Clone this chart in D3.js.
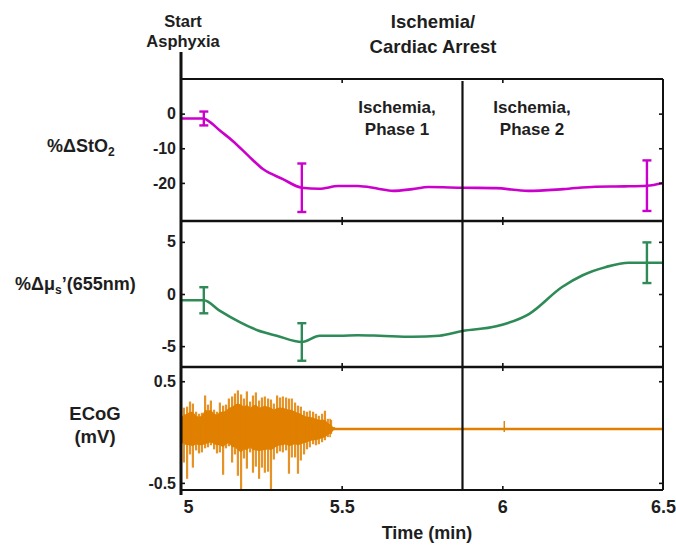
<!DOCTYPE html>
<html><head><meta charset="utf-8">
<script src="https://cdn.jsdelivr.net/npm/d3@7"></script>
<style>
body{margin:0;background:#fff}
text{font-family:"Liberation Sans",Arial,Helvetica,sans-serif;font-weight:bold;fill:#1e1e1e}
</style>
</head><body>
<svg id="c" width="676" height="545"></svg>
<script>
// ---------- data ----------
const xTickValues = [5, 5.5, 6, 6.5];
const xTickLabels = ["5", "5.5", "6", "6.5"];
const stoTicks = [0, -10, -20];
const stoTickLabels = ["0", "-10", "-20"];
const musTicks = [5, 0, -5];
const musTickLabels = ["5", "0", "-5"];
const ecogTicks = [0.5, -0.5];
const ecogTickLabels = ["0.5", "-0.5"];

const ischemiaTime = 5.876;

// %ΔStO2
const stoT = [5.0, 5.071, 5.084, 5.12, 5.16, 5.21, 5.255, 5.317, 5.376, 5.43, 5.49, 5.55, 5.61, 5.66, 5.72, 5.77, 5.88, 5.98, 6.08, 6.19, 6.29, 6.38, 6.45, 6.5];
const stoV = [-1.4, -1.4, -2.0, -4.8, -7.8, -12.2, -16.0, -18.9, -21.4, -21.7, -20.9, -20.9, -21.6, -22.3, -21.8, -21.2, -21.4, -21.5, -22.3, -21.8, -21.1, -21.0, -20.8, -20.0];
const stoErrT = [5.071, 5.376, 6.45];
const stoErrMean = [-1.4, -21.4, -20.8];
const stoErr = [2.0, 7.0, 7.3];

// %Δμs'(655nm)
const musT = [5.0, 5.071, 5.12, 5.183, 5.24, 5.298, 5.376, 5.432, 5.494, 5.55, 5.618, 5.72, 5.804, 5.876, 5.981, 6.084, 6.186, 6.25, 6.323, 6.394, 6.45, 6.5];
const musV = [-0.6, -0.6, -1.6, -2.7, -3.5, -4.0, -4.6, -4.0, -4.0, -3.95, -4.0, -4.1, -4.0, -3.55, -3.1, -1.9, 0.67, 1.8, 2.6, 3.0, 3.0, 3.0];
const musErrT = [5.071, 5.376, 6.45];
const musErrMean = [-0.6, -4.6, 3.0];
const musErr = [1.25, 1.8, 1.95];

// ECoG envelope (max / min per sample) during asphyxia burst
const ecogT  = [5.000,5.009,5.019,5.028,5.037,5.047,5.056,5.065,5.075,5.084,5.093,5.103,5.112,5.121,5.131,5.140,5.149,5.159,5.168,5.177,5.187,5.196,5.205,5.215,5.224,5.233,5.243,5.252,5.261,5.271,5.280,5.289,5.299,5.308,5.317,5.327,5.336,5.345,5.355,5.364,5.373,5.383,5.392,5.401,5.411,5.420,5.429,5.439,5.448,5.457,5.467,5.476];
const ecogHi = [0.22,0.24,0.25,0.30,0.28,0.20,0.18,0.19,0.36,0.27,0.31,0.22,0.20,0.29,0.26,0.27,0.33,0.35,0.38,0.41,0.37,0.33,0.40,0.30,0.36,0.39,0.31,0.34,0.35,0.33,0.32,0.28,0.36,0.34,0.35,0.34,0.33,0.33,0.29,0.26,0.25,0.21,0.20,0.21,0.20,0.18,0.16,0.18,0.21,0.13,0.12,0.05];
const ecogLo = [-0.15,-0.30,-0.46,-0.22,-0.35,-0.18,-0.21,-0.20,-0.16,-0.15,-0.13,-0.17,-0.21,-0.20,-0.42,-0.16,-0.14,-0.30,-0.22,-0.43,-0.57,-0.26,-0.36,-0.20,-0.40,-0.34,-0.46,-0.35,-0.40,-0.39,-0.56,-0.27,-0.21,-0.19,-0.20,-0.18,-0.41,-0.25,-0.25,-0.41,-0.28,-0.22,-0.17,-0.15,-0.12,-0.13,-0.12,-0.10,-0.08,-0.05,-0.02,0.02];
// dense core of the burst (solid part)
const ecogCoreHi = [0.14,0.17,0.18,0.20,0.20,0.16,0.15,0.16,0.22,0.21,0.22,0.18,0.17,0.20,0.20,0.21,0.24,0.25,0.27,0.28,0.27,0.25,0.27,0.24,0.26,0.27,0.24,0.25,0.26,0.25,0.24,0.22,0.24,0.24,0.24,0.23,0.22,0.22,0.20,0.19,0.18,0.16,0.15,0.15,0.14,0.13,0.12,0.12,0.12,0.09,0.07,0.04];
const ecogCoreLo = [-0.10,-0.12,-0.13,-0.13,-0.14,-0.12,-0.13,-0.13,-0.12,-0.11,-0.10,-0.12,-0.13,-0.13,-0.15,-0.12,-0.11,-0.15,-0.15,-0.18,-0.20,-0.17,-0.18,-0.15,-0.18,-0.18,-0.19,-0.18,-0.18,-0.17,-0.18,-0.16,-0.14,-0.13,-0.13,-0.12,-0.14,-0.13,-0.12,-0.13,-0.12,-0.11,-0.10,-0.09,-0.08,-0.08,-0.07,-0.06,-0.05,-0.03,-0.01,0.02];
// flat trace after suppression
const ecogFlatT = [5.47, 6.5];
const ecogFlatV = [0.03, 0.03];
const ecogSpikeT = [5.464, 6.006];
const ecogSpikeHi = [0.13, 0.11];
const ecogSpikeLo = [-0.05, 0.0];

// ---------- layout ----------
const svg = d3.select("#c");
const X0 = 181, X1 = 663;
const P1 = [79, 221], P2 = [221, 367], P3 = [367, 490];
const cMag = "#cc00cc", cGreen = "#2e8b57", cOrange = "#e08000";

const x = d3.scaleLinear().domain([5, 6.5]).range([X0, X1]);
const yS = d3.scaleLinear().domain([-31, 10]).range([P1[1], P1[0]]);
const yM = d3.scaleLinear().domain([-7, 7]).range([P2[1], P2[0]]);
const yE = d3.scaleLinear().domain([-0.57, 0.64]).range([P3[1], P3[0]]);

function styleAxis(g, w) {
  g.select(".domain").remove();
  g.selectAll(".tick line").attr("stroke", "#111").attr("stroke-width", w || 1.6);
  g.selectAll(".tick text").attr("fill", "#1e1e1e").style("font-family", '"Liberation Sans",Arial,sans-serif').style("font-weight", "bold");
}

// ECoG burst
const eg = svg.append("g");
eg.append("path").datum(ecogT)
  .attr("d", d3.area().x((d) => x(d)).y0((d, i) => yE(ecogCoreLo[i])).y1((d, i) => yE(ecogCoreHi[i])))
  .attr("fill", cOrange);
eg.selectAll("line.burst").data(ecogT).join("line").attr("class", "burst")
  .attr("x1", (d) => x(d)).attr("x2", (d) => x(d))
  .attr("y1", (d, i) => yE(ecogHi[i])).attr("y2", (d, i) => yE(ecogLo[i]))
  .attr("stroke", cOrange).attr("stroke-width", 2.2).attr("stroke-opacity", 0.85);
eg.append("path").datum(ecogFlatT)
  .attr("d", d3.line().x((d) => x(d)).y((d, i) => yE(ecogFlatV[i])))
  .attr("stroke", cOrange).attr("stroke-width", 2.6).attr("fill", "none");
eg.selectAll("line.spk").data(ecogSpikeT).join("line").attr("class", "spk")
  .attr("x1", (d) => x(d)).attr("x2", (d) => x(d))
  .attr("y1", (d, i) => yE(ecogSpikeHi[i])).attr("y2", (d, i) => yE(ecogSpikeLo[i]))
  .attr("stroke", cOrange).attr("stroke-width", 1.4);

// lines
function drawSeries(T, V, y, color) {
  svg.append("path").datum(T)
    .attr("d", d3.line().x((d) => x(d)).y((d, i) => y(V[i])).curve(d3.curveMonotoneX))
    .attr("fill", "none").attr("stroke", color).attr("stroke-width", 2.6).attr("stroke-linejoin", "round");
}
function drawErr(T, M, E, y, color) {
  const g = svg.append("g").attr("stroke", color).attr("stroke-width", 2.4);
  T.forEach((t, i) => {
    const cx = x(t), top = y(M[i] + E[i]), bot = y(M[i] - E[i]);
    g.append("line").attr("x1", cx).attr("x2", cx).attr("y1", top).attr("y2", bot);
    g.append("line").attr("x1", cx - 4.5).attr("x2", cx + 4.5).attr("y1", top).attr("y2", top);
    g.append("line").attr("x1", cx - 4.5).attr("x2", cx + 4.5).attr("y1", bot).attr("y2", bot);
  });
}
drawSeries(stoT, stoV, yS, cMag);
drawErr(stoErrT, stoErrMean, stoErr, yS, cMag);
drawSeries(musT, musV, yM, cGreen);
drawErr(musErrT, musErrMean, musErr, yM, cGreen);

// frame
const fr = svg.append("g").attr("stroke", "#111").attr("fill", "none");
fr.append("line").attr("x1", X0).attr("x2", X1).attr("y1", P1[0]).attr("y2", P1[0]).attr("stroke-width", 2);
fr.append("line").attr("x1", X0).attr("x2", X1).attr("y1", P2[0]).attr("y2", P2[0]).attr("stroke-width", 2.4);
fr.append("line").attr("x1", X0).attr("x2", X1).attr("y1", P3[0]).attr("y2", P3[0]).attr("stroke-width", 2.4);
fr.append("line").attr("x1", X0).attr("x2", X1).attr("y1", P3[1]).attr("y2", P3[1]).attr("stroke-width", 2);
fr.append("line").attr("x1", X1).attr("x2", X1).attr("y1", P1[0]).attr("y2", P3[1]).attr("stroke-width", 2);
fr.append("line").attr("x1", x(ischemiaTime)).attr("x2", x(ischemiaTime)).attr("y1", P1[0] + 2).attr("y2", P3[1]).attr("stroke-width", 2.2);
fr.append("line").attr("x1", X0).attr("x2", X0).attr("y1", 52).attr("y2", 495).attr("stroke-width", 3);

// left axes
const panels = [[yS, stoTicks, stoTickLabels], [yM, musTicks, musTickLabels], [yE, ecogTicks, ecogTickLabels]];
panels.forEach(([y, tv, tl]) => {
  const ax = d3.axisLeft(y).tickValues(tv).tickSize(-4).tickPadding(5).tickFormat((d, i) => tl[i]);
  const g = svg.append("g").attr("transform", `translate(${X0},0)`).call(ax);
  styleAxis(g);
  g.selectAll(".tick text").style("font-size", "16px");
  const axr = d3.axisRight(y).tickValues(tv).tickSize(-4).tickFormat("");
  styleAxis(svg.append("g").attr("transform", `translate(${X1},0)`).call(axr));
});

// top / bottom inner ticks per panel
[P1, P2, P3].forEach((p) => {
  styleAxis(svg.append("g").attr("transform", `translate(0,${p[0]})`)
    .call(d3.axisTop(x).tickValues([5.5, 6]).tickSize(-4).tickFormat("")));
  styleAxis(svg.append("g").attr("transform", `translate(0,${p[1]})`)
    .call(d3.axisBottom(x).tickValues([5.5, 6]).tickSize(-4).tickFormat("")));
});

// x axis labels
const gx = svg.append("g").attr("transform", `translate(0,${P3[1]})`)
  .call(d3.axisBottom(x).tickValues(xTickValues).tickSize(0).tickPadding(10).tickFormat((d, i) => xTickLabels[i]));
styleAxis(gx);
gx.selectAll(".tick text").style("font-size", "18px");
gx.selectAll(".tick text").filter((d) => d === 5).attr("dx", 7);

// texts
function txt(s, xx, yy, size, anchor) {
  return svg.append("text").attr("x", xx).attr("y", yy).attr("text-anchor", anchor || "middle")
    .style("font-size", size + "px").text(s);
}
txt("Start", 183, 27, 16.5);
txt("Asphyxia", 183, 47, 16.5);
txt("Ischemia/", 433, 28, 18.5);
txt("Cardiac Arrest", 433, 53, 18.5);
txt("Ischemia,", 397, 113, 17);
txt("Phase 1", 397, 135, 17);
txt("Ischemia,", 532, 113, 17);
txt("Phase 2", 532, 135, 17);
txt("Time (min)", 427, 539, 18);
txt("ECoG", 95, 420, 18.5);
txt("(mV)", 95, 443, 18.5);

const l1 = svg.append("text").attr("x", 47).attr("y", 152).style("font-size", "18px");
l1.append("tspan").text("%ΔStO");
l1.append("tspan").attr("dy", 4).style("font-size", "12px").text("2");

const l2 = svg.append("text").attr("x", 15).attr("y", 290).style("font-size", "18px");
l2.append("tspan").text("%Δμ");
l2.append("tspan").attr("dy", 4).style("font-size", "12px").text("s");
l2.append("tspan").attr("dy", -4).text("’(655nm)");
</script>
</body></html>
